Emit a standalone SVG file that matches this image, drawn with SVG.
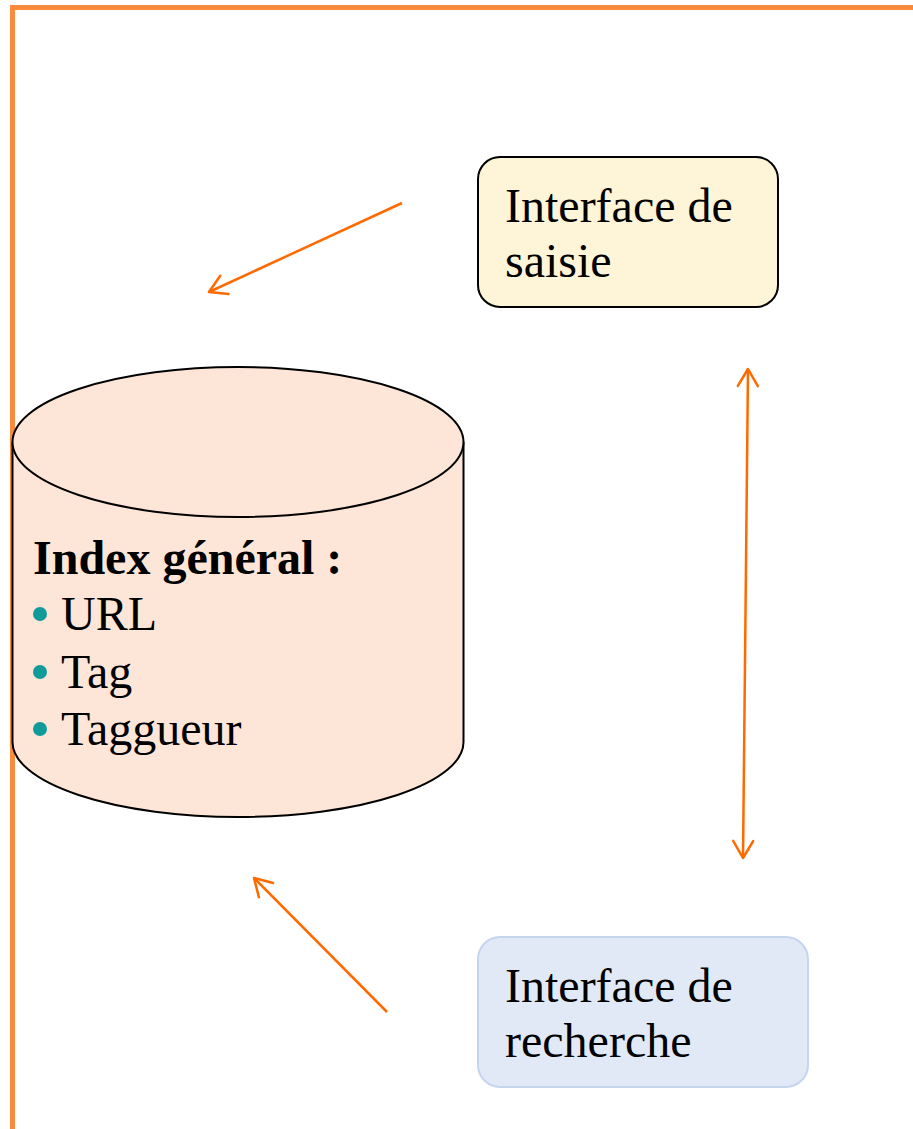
<svg xmlns="http://www.w3.org/2000/svg" width="913" height="1129" viewBox="0 0 913 1129">
  <style>
    .lbl { font-family: "Liberation Serif", "Times New Roman", serif; font-size: 48px; fill: #000; }
    .bold { font-weight: bold; }
    .conn { stroke: #FF6A00; stroke-width: 2.5; fill: none; }
    .bullet { fill: #119A9A; }
  </style>
  <defs>
    <marker id="arrow" viewBox="-20 -12 22 24" refX="0" refY="0" markerWidth="22" markerHeight="24" markerUnits="userSpaceOnUse" orient="auto-start-reverse">
      <path d="M-17,-10 L0,0 L-17,10" fill="none" stroke="#FF6A00" stroke-width="2.5" stroke-linecap="round" stroke-linejoin="round"/>
    </marker>
  </defs>
  <rect width="913" height="1129" fill="#fff"/>
  <g id="frame">
    <path d="M12.5,1129 L12.5,7.5 L913,7.5" fill="none" stroke="#FB8A3C" stroke-width="5"/>
  </g>
  <g id="index-general">
    <path d="M12.5,442 L12.5,742 A225.5,75 0 0 0 463.5,742 L463.5,442" fill="#FDE6D8" stroke="#000" stroke-width="2"/>
    <ellipse cx="238" cy="442" rx="225.5" ry="75" fill="#FDE6D8" stroke="#000" stroke-width="2"/>
    <text class="lbl bold" x="33" y="574">Index général :</text>
    <circle class="bullet" cx="40" cy="614" r="7"/>
    <text class="lbl" x="61" y="630">URL</text>
    <circle class="bullet" cx="40" cy="672" r="7"/>
    <text class="lbl" x="61" y="688">Tag</text>
    <circle class="bullet" cx="40" cy="729" r="7"/>
    <text class="lbl" x="61" y="745">Taggueur</text>
  </g>
  <g id="interface-saisie">
    <rect x="478" y="157" width="300" height="150" rx="22" ry="22" fill="#FEF4D7" stroke="#000" stroke-width="2"/>
    <text class="lbl" x="505" y="222">Interface de</text>
    <text class="lbl" x="505" y="277">saisie</text>
  </g>
  <g id="interface-recherche">
    <rect x="478" y="937" width="330" height="150" rx="22" ry="22" fill="#E1E9F6" stroke="#C6D5EE" stroke-width="2"/>
    <text class="lbl" x="505" y="1002">Interface de</text>
    <text class="lbl" x="505" y="1057">recherche</text>
  </g>
  <g id="connectors">
    <line class="conn" x1="402" y1="203" x2="209" y2="292" marker-end="url(#arrow)"/>
    <line class="conn" x1="387" y1="1012" x2="254" y2="878" marker-end="url(#arrow)"/>
    <line class="conn" x1="748" y1="369" x2="743" y2="858" marker-start="url(#arrow)" marker-end="url(#arrow)"/>
  </g>
</svg>
